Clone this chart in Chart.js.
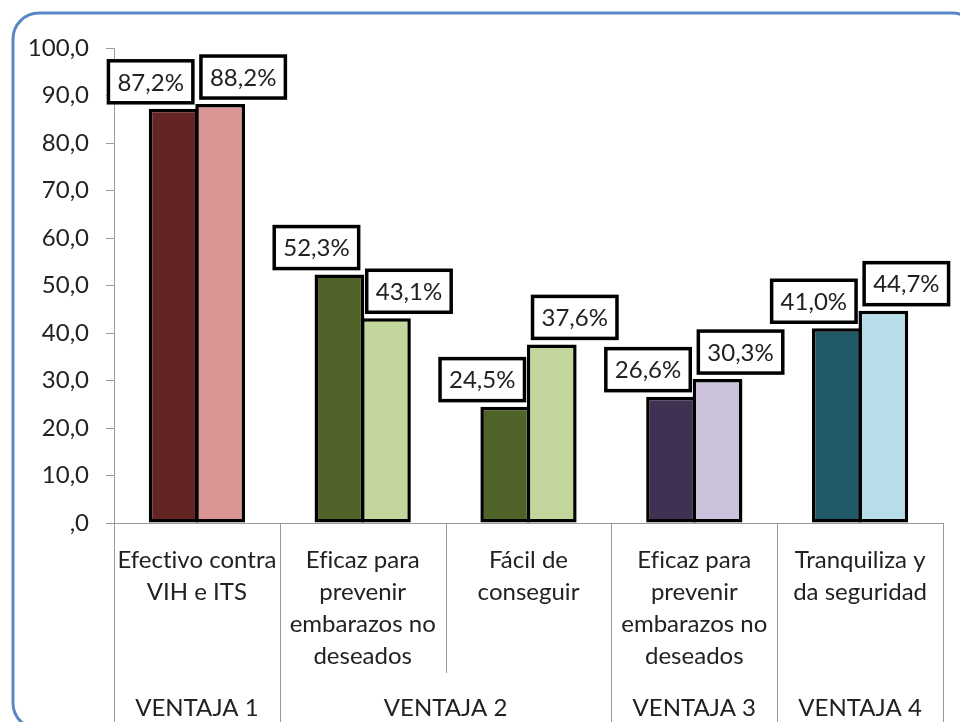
<!DOCTYPE html>
<html>
<head>
<meta charset="utf-8">
<script src="https://cdn.jsdelivr.net/npm/chart.js@4"></script>
<style>
  html, body { margin: 0; padding: 0; background: #fff; }
  #wrap { width: 960px; height: 722px; }
</style>
</head>
<body>
<div id="wrap"><canvas id="grafico"></canvas></div>
<script>
// datos
const categorias = [
    ['Efectivo contra', 'VIH e ITS'],
    ['Eficaz para', 'prevenir', 'embarazos no', 'deseados'],
    ['Fácil de', 'conseguir'],
    ['Eficaz para', 'prevenir', 'embarazos no', 'deseados'],
    ['Tranquiliza y', 'da seguridad']
];
const ventajas = ['VENTAJA 1', 'VENTAJA 2', 'VENTAJA 3', 'VENTAJA 4'];
const ventajaTamanos = [1, 2, 1, 1]; // cuantas categorias tiene cada ventaja
const serie1 = [87.2, 52.3, 24.5, 26.6, 41.0];
const serie2 = [88.2, 43.1, 37.6, 30.3, 44.7];
const coloresSerie1 = ['#632423', '#4F6228', '#4F6228', '#403152', '#215968'];
const coloresSerie2 = ['#D99694', '#C3D69B', '#C3D69B', '#CCC1DA', '#B7DEE8'];
const yTicks = [0, 10, 20, 30, 40, 50, 60, 70, 80, 90, 100];

const FUENTE = 'Lato, "Open Sans", sans-serif';
const TEXTO = '#222222';
const GRIS = '#999999';

function fmt(v, dec) {
    const s = v.toFixed(dec).replace('.', ',');
    return s.startsWith('0,') ? s.slice(1) : s;
}

// sin ligaduras (fi)
function sinLigaduras(ctx) {
    if ('textRendering' in ctx) ctx.textRendering = 'optimizeSpeed';
    if ('letterSpacing' in ctx) ctx.letterSpacing = '0.01px';
}

// marco redondeado azul
const marcoPlugin = {
    id: 'marco',
    beforeDraw(chart) {
        const ctx = chart.ctx;
        ctx.save();
        ctx.fillStyle = '#fff';
        ctx.fillRect(0, 0, chart.width, chart.height);
        ctx.strokeStyle = '#5B87C5';
        ctx.lineWidth = 3;
        ctx.beginPath();
        ctx.roundRect(13, 13, 965, 716, 26);
        ctx.stroke();
        ctx.restore();
    }
};

// etiquetas del eje x en dos niveles, con separadores
const ejeXPlugin = {
    id: 'ejeX',
    afterDraw(chart) {
        const ctx = chart.ctx;
        const x = chart.scales.x;
        const area = chart.chartArea;
        const n = categorias.length;
        const borde = i => (i === 0 ? area.left : i === n ? area.right : (x.getPixelForValue(i - 1) + x.getPixelForValue(i)) / 2);

        // limites de cada ventaja
        const limites = [0];
        ventajaTamanos.forEach(t => limites.push(limites[limites.length - 1] + t));

        ctx.save();
        ctx.strokeStyle = GRIS;
        ctx.lineWidth = 1;
        for (let i = 0; i <= n; i++) {
            const px = Math.round(borde(i)) + 0.5;
            const largo = limites.includes(i) ? chart.height : area.bottom + 150;
            ctx.beginPath();
            ctx.moveTo(px, area.bottom);
            ctx.lineTo(px, largo);
            ctx.stroke();
        }

        sinLigaduras(ctx);
        ctx.fillStyle = TEXTO;
        ctx.font = '24px ' + FUENTE;
        ctx.textAlign = 'center';
        ctx.textBaseline = 'middle';
        categorias.forEach((lineas, i) => {
            const cx = x.getPixelForValue(i);
            lineas.forEach((l, k) => ctx.fillText(l, cx, area.bottom + 37 + k * 32));
        });
        ventajas.forEach((v, g) => {
            const cx = (borde(limites[g]) + borde(limites[g + 1])) / 2;
            ctx.fillText(v, cx, area.bottom + 185);
        });
        ctx.restore();
    }
};

// etiquetas de datos en recuadros
const etiquetasPlugin = {
    id: 'etiquetas',
    afterDatasetsDraw(chart) {
        const ctx = chart.ctx;
        ctx.save();
        ctx.font = '24px ' + FUENTE;
        ctx.textAlign = 'center';
        ctx.textBaseline = 'middle';
        chart.data.datasets.forEach((ds, d) => {
            const meta = chart.getDatasetMeta(d);
            meta.data.forEach((bar, i) => {
                const txt = fmt(ds.data[i], 1) + '%';
                const w = ctx.measureText(txt).width + 18;
                const h = 42;
                const cx = bar.x + (d === 0 ? -23 : 23);
                const bottom = bar.y - 6;
                ctx.fillStyle = '#fff';
                ctx.fillRect(cx - w / 2, bottom - h, w, h);
                ctx.strokeStyle = '#000';
                ctx.lineWidth = 3.5;
                ctx.strokeRect(cx - w / 2, bottom - h, w, h);
                ctx.fillStyle = TEXTO;
                ctx.fillText(txt, cx, bottom - h / 2 + 1);
            });
        });
        ctx.restore();
    }
};

new Chart(document.getElementById('grafico'), {
    type: 'bar',
    data: {
        labels: categorias,
        datasets: [
            {
                label: 'Serie 1',
                data: serie1,
                backgroundColor: coloresSerie1,
                borderColor: '#000',
                borderWidth: 3.5,
                borderSkipped: false
            },
            {
                label: 'Serie 2',
                data: serie2,
                backgroundColor: coloresSerie2,
                borderColor: '#000',
                borderWidth: 3.5,
                borderSkipped: false
            }
        ]
    },
    options: {
        responsive: true,
        maintainAspectRatio: false,
        animation: false,
        categoryPercentage: 0.561,
        barPercentage: 1.07,
        layout: { padding: { top: 48, right: 17, left: 0, bottom: 0 } },
        plugins: {
            legend: { display: false },
            tooltip: { enabled: false }
        },
        scales: {
            x: {
                grid: { display: false },
                ticks: { display: false },
                border: { display: true, color: GRIS, width: 1 },
                afterFit(scale) { scale.height = 199; }
            },
            y: {
                min: 0,
                max: 100,
                afterBuildTicks(scale) { scale.ticks = yTicks.map(v => ({ value: v })); },
                ticks: {
                    padding: 17,
                    color: TEXTO,
                    font: { family: FUENTE, size: 24 },
                    callback: v => fmt(v, 1)
                },
                grid: { drawOnChartArea: false, tickLength: 8, color: GRIS },
                border: { display: true, color: GRIS, width: 1 },
                afterFit(scale) { scale.width = 114; }
            }
        }
    },
    plugins: [marcoPlugin, ejeXPlugin, etiquetasPlugin]
});
</script>
</body>
</html>
